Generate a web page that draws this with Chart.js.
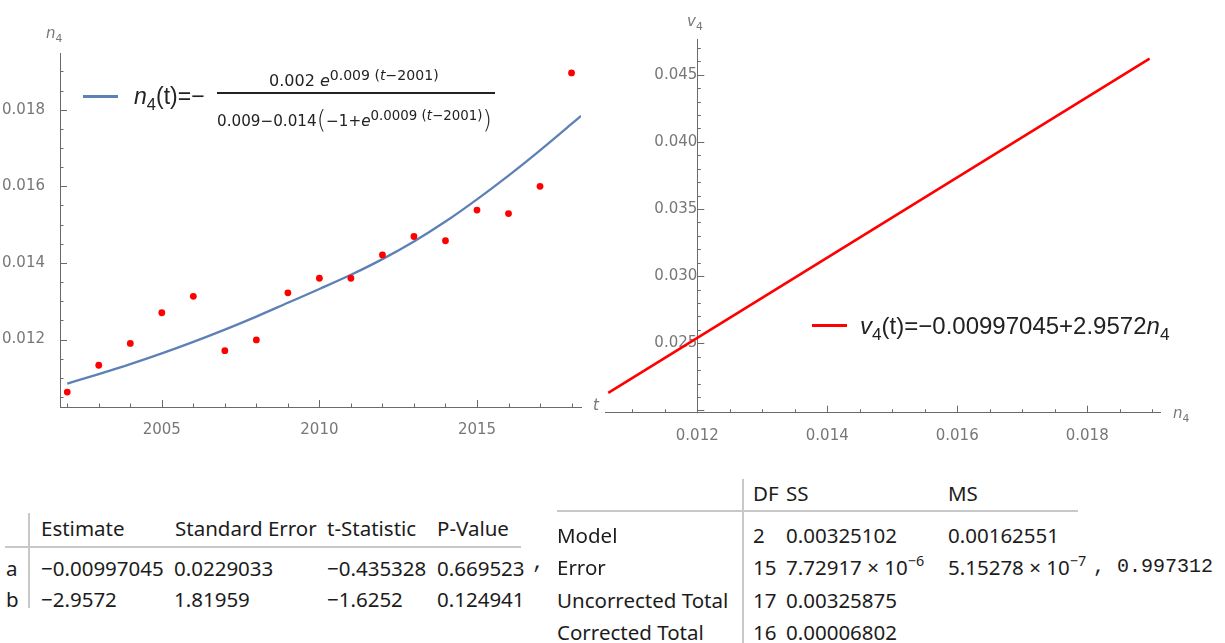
<!DOCTYPE html>
<html>
<head>
<meta charset="utf-8">
<script src="https://cdn.jsdelivr.net/npm/chart.js@4.4.0/dist/chart.umd.min.js"></script>
<style>
  html, body { margin: 0; padding: 0; background: #fff; }
  body { width: 1225px; height: 643px; position: relative; overflow: hidden; font-family: "Liberation Sans", Arial, sans-serif; }
  canvas { position: absolute; top: 0; }
  #fitChart { left: 0; }
  #lineChart { left: 590px; }
  .abs { position: absolute; white-space: nowrap; }
  .axlab { position: absolute; white-space: nowrap; color: #777; font-family: "DejaVu Sans", sans-serif; font-size: 15px; line-height: 18px; }
  .lo { font-size: 0.72em; position: relative; top: 0.35em; }
  .hi { font-size: 0.88em; position: relative; top: -0.45em; }
  .swatch { position: absolute; height: 3px; }
  .formula { color: #222; }
  .frac { font-family: "DejaVu Sans", sans-serif; font-size: 16px; line-height: 18px; color: #222; }
  .paren { font-size: 24px; position: relative; top: 2px; font-weight: 300; }
  .tbl { position: absolute; white-space: nowrap; font-family: "Noto Sans", sans-serif; font-size: 20.5px; line-height: 24px; color: #1c1c1c; }
  .mono { font-family: "Liberation Mono", monospace; }
  .rule { position: absolute; background: #c8c8c8; }
</style>
</head>
<body>
<canvas id="fitChart" width="600" height="440"></canvas>
<canvas id="lineChart" width="635" height="440"></canvas>

<!-- axis names -->
<div class="axlab" style="left:46px; top:24px;"><i>n</i><span class="lo">4</span></div>
<div class="axlab" style="left:593px; top:396px;"><i>t</i></div>
<div class="axlab" style="left:687px; top:12px;"><i>v</i><span class="lo">4</span></div>
<div class="axlab" style="left:1173px; top:404px;"><i>n</i><span class="lo">4</span></div>

<!-- legend of the fitted curve -->
<div class="swatch" style="left:83px; top:95px; width:35px; background:#5e81b5;"></div>
<div class="abs formula" style="left:134px; top:82px; font-size:23px; line-height:28px;"><i>n</i><span class="lo">4</span>(t)=−</div>
<div class="abs frac" style="left:269px; top:72px;">0.002 <i>e</i><span class="hi">0.009 (<i>t</i>−2001)</span></div>
<div class="abs" style="left:217px; top:92px; width:278px; height:2px; background:#222;"></div>
<div class="abs frac" style="left:217px; top:109px; font-size:15.2px;">0.009−0.014<span class="paren">(</span>−1+<i>e</i><span class="hi">0.0009 (<i>t</i>−2001)</span><span class="paren">)</span></div>

<!-- legend of the linear relation -->
<div class="swatch" style="left:812px; top:324px; width:35px; background:#ff0000;"></div>
<div class="abs formula" style="left:860px; top:312px; font-size:24px; line-height:28px;"><i>v</i><span class="lo">4</span>(t)=−0.00997045+2.9572<i>n</i><span class="lo">4</span></div>

<!-- parameter table -->
<div class="rule" style="left:28px; top:513px; width:2px; height:95px;"></div>
<div class="rule" style="left:5px; top:546px; width:516px; height:2px;"></div>
<div class="tbl" style="left:41px; top:516px;">Estimate</div>
<div class="tbl" style="left:175px; top:516px;">Standard Error</div>
<div class="tbl" style="left:327px; top:516px;">t-Statistic</div>
<div class="tbl" style="left:437px; top:516px;">P-Value</div>
<div class="tbl" style="left:6px; top:556px;">a</div>
<div class="tbl" style="left:41px; top:556px;">−0.00997045</div>
<div class="tbl" style="left:174px; top:556px;">0.0229033</div>
<div class="tbl" style="left:327px; top:556px;">−0.435328</div>
<div class="tbl" style="left:437px; top:556px;">0.669523</div>
<div class="tbl mono" style="left:532px; top:551px;">,</div>
<div class="tbl" style="left:6px; top:587px;">b</div>
<div class="tbl" style="left:41px; top:587px;">−2.9572</div>
<div class="tbl" style="left:174px; top:587px;">1.81959</div>
<div class="tbl" style="left:327px; top:587px;">−1.6252</div>
<div class="tbl" style="left:437px; top:587px;">0.124941</div>

<!-- ANOVA table -->
<div class="rule" style="left:742px; top:479px; width:2px; height:164px;"></div>
<div class="rule" style="left:557px; top:510px; width:521px; height:2px;"></div>
<div class="tbl" style="left:753px; top:481px;">DF</div>
<div class="tbl" style="left:786px; top:481px;">SS</div>
<div class="tbl" style="left:948px; top:481px;">MS</div>
<div class="tbl" style="left:557px; top:523px;">Model</div>
<div class="tbl" style="left:753px; top:523px;">2</div>
<div class="tbl" style="left:786px; top:523px;">0.00325102</div>
<div class="tbl" style="left:948px; top:523px;">0.00162551</div>
<div class="tbl" style="left:557px; top:555px;">Error</div>
<div class="tbl" style="left:753px; top:555px;">15</div>
<div class="tbl" style="left:786px; top:555px;">7.72917 × 10<span class="hi" style="font-size:0.7em; top:-0.65em;">−6</span></div>
<div class="tbl" style="left:948px; top:555px;">5.15278 × 10<span class="hi" style="font-size:0.7em; top:-0.65em;">−7</span></div>
<div class="tbl mono" style="left:1093px; top:555px; font-size:20px;">, 0.997312</div>
<div class="tbl" style="left:557px; top:588px;">Uncorrected Total</div>
<div class="tbl" style="left:753px; top:588px;">17</div>
<div class="tbl" style="left:786px; top:588px;">0.00325875</div>
<div class="tbl" style="left:557px; top:620px;">Corrected Total</div>
<div class="tbl" style="left:753px; top:620px;">16</div>
<div class="tbl" style="left:786px; top:620px;">0.00006802</div>

<script>
// yearly n4 observations
const years = [2002, 2003, 2004, 2005, 2006, 2007, 2008, 2009, 2010,
               2011, 2012, 2013, 2014, 2015, 2016, 2017, 2018];
const n4Values = [0.01063, 0.01133, 0.01190, 0.01270, 0.01313, 0.01171, 0.01199, 0.01322, 0.01360,
                  0.01360, 0.01421, 0.01469, 0.01458, 0.01538, 0.01529, 0.01600, 0.01896];

// fitted n4(t) curve, sampled along the plot range
const fitYears = [2002, 2003, 2004, 2005, 2006, 2007, 2008, 2009, 2010,
                  2011, 2012, 2013, 2014, 2015, 2016, 2017, 2018, 2018.3];
const fitValues = [0.01085, 0.01110, 0.01136, 0.01164, 0.01194, 0.01226, 0.01260, 0.01296, 0.01332,
                   0.01369, 0.01410, 0.01456, 0.01508, 0.01566, 0.01628, 0.01694, 0.01763, 0.01784];

// v4 against n4, ends of the regression line
const lineN4 = [0.01063, 0.01896];
const lineV4 = [0.0213, 0.0462];

// labelled ticks
const yearTicks = [2005, 2010, 2015];
const n4Ticks = [0.012, 0.014, 0.016, 0.018];
const v4Ticks = [0.025, 0.030, 0.035, 0.040, 0.045];

const AXIS = '#6a6a6a';
const LABEL = '#777';
const tickFont = { family: 'DejaVu Sans', size: 15 };

function marks(scale, minor, major) {
  const out = [];
  const first = Math.ceil(scale.min / minor - 1e-9);
  const last = Math.floor(scale.max / minor + 1e-9);
  for (let k = first; k <= last; k++) {
    const v = k * minor;
    const r = v / major;
    out.push([v, Math.abs(r - Math.round(r)) < 1e-6]);
  }
  return out;
}

// short tick marks pointing into the plot
const inwardTicks = {
  id: 'inwardTicks',
  afterDraw(chart, args, opts) {
    const { ctx, chartArea } = chart;
    const xs = chart.scales.x;
    const ys = chart.scales.y;
    const baseY = chartArea.bottom;
    const baseX = opts.yAt === undefined ? chartArea.left : xs.getPixelForValue(opts.yAt);
    ctx.save();
    ctx.strokeStyle = AXIS;
    ctx.lineWidth = 1;
    ctx.beginPath();
    marks(xs, opts.xMinor, opts.xMajor).forEach(([v, major]) => {
      const px = Math.round(xs.getPixelForValue(v)) + 0.5;
      ctx.moveTo(px, baseY);
      ctx.lineTo(px, baseY - (major ? 7 : 3.5));
    });
    marks(ys, opts.yMinor, opts.yMajor).forEach(([v, major]) => {
      const py = Math.round(ys.getPixelForValue(v)) + 0.5;
      ctx.moveTo(baseX, py);
      ctx.lineTo(baseX + (major ? 7 : 3.5), py);
    });
    ctx.stroke();
    ctx.restore();
  }
};

function fixedTicks(values) {
  return scale => { scale.ticks = values.map(v => ({ value: v })); };
}

new Chart(document.getElementById('fitChart'), {
  type: 'scatter',
  data: {
    datasets: [
      {
        label: 'n4',
        data: years.map((t, i) => ({ x: t, y: n4Values[i] })),
        backgroundColor: '#ff0000',
        borderWidth: 0,
        pointRadius: 3.4,
        order: 0
      },
      {
        label: 'fit',
        type: 'line',
        data: fitYears.map((t, i) => ({ x: t, y: fitValues[i] })),
        borderColor: '#5e81b5',
        borderWidth: 2.3,
        pointRadius: 0,
        cubicInterpolationMode: 'monotone',
        fill: false,
        order: 1
      }
    ]
  },
  options: {
    responsive: false,
    animation: false,
    layout: { padding: { left: 0, right: 19, top: 53, bottom: 0 } },
    plugins: {
      legend: { display: false },
      tooltip: { enabled: false },
      inwardTicks: { xMinor: 1, xMajor: 5, yMinor: 0.0005, yMajor: 0.002 }
    },
    scales: {
      x: {
        type: 'linear',
        min: 2001.77,
        max: 2018.3,
        grid: { display: false },
        border: { display: true, color: AXIS, width: 1 },
        ticks: { color: LABEL, font: tickFont, padding: 6, maxRotation: 0, autoSkip: false, callback: v => String(v) },
        afterBuildTicks: fixedTicks(yearTicks),
        afterFit: s => { s.height = 33; }
      },
      y: {
        min: 0.01024,
        max: 0.01948,
        grid: { display: false },
        border: { display: true, color: AXIS, width: 1 },
        ticks: { color: LABEL, font: tickFont, padding: 7, autoSkip: false, callback: v => v.toFixed(3) },
        afterBuildTicks: fixedTicks(n4Ticks),
        afterFit: s => { s.width = 60; }
      }
    }
  },
  plugins: [inwardTicks]
});

new Chart(document.getElementById('lineChart'), {
  type: 'scatter',
  data: {
    datasets: [
      {
        label: 'v4',
        type: 'line',
        data: lineN4.map((n, i) => ({ x: n, y: lineV4[i] })),
        borderColor: '#ff0000',
        borderWidth: 2.6,
        pointRadius: 0,
        fill: false
      }
    ]
  },
  options: {
    responsive: false,
    animation: false,
    layout: { padding: { left: 15, right: 65, top: 39, bottom: 0 } },
    plugins: {
      legend: { display: false },
      tooltip: { enabled: false },
      inwardTicks: { yAt: 0.012, xMinor: 0.0005, xMajor: 0.002, yMinor: 0.001, yMajor: 0.005 }
    },
    scales: {
      x: {
        type: 'linear',
        min: 0.01058,
        max: 0.01912,
        grid: { display: false },
        border: { display: true, color: AXIS, width: 1 },
        ticks: { color: LABEL, font: tickFont, padding: 6, maxRotation: 0, autoSkip: false, callback: v => v.toFixed(3) },
        afterBuildTicks: fixedTicks(n4Ticks),
        afterFit: s => { s.height = 27.3; }
      },
      y: {
        position: { x: 0.012 },
        min: 0.01983,
        max: 0.04766,
        grid: { display: false },
        border: { display: true, color: AXIS, width: 1 },
        ticks: { color: LABEL, font: tickFont, padding: 6, autoSkip: false, callback: v => v.toFixed(3) },
        afterBuildTicks: fixedTicks(v4Ticks)
      }
    }
  },
  plugins: [inwardTicks]
});
</script>
</body>
</html>
